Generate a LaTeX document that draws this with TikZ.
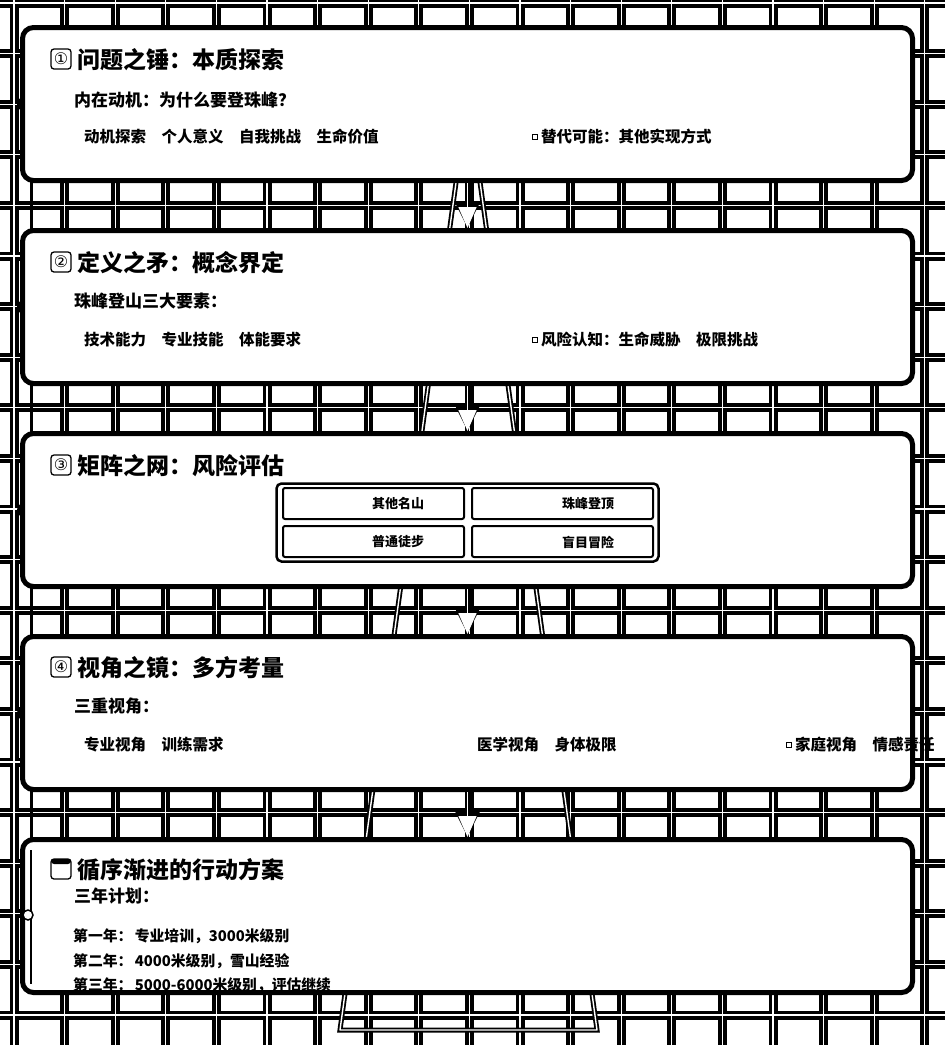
\documentclass[tikz,border=0pt]{standalone}
\usepackage{fontspec}
\newfontfamily\cjk{Noto Sans CJK SC}
\newfontfamily\sym{DejaVu Sans}
\usetikzlibrary{arrows.meta}

\tikzset{
  band/.style={draw=black, line width=9pt},
  hair/.style={draw=white, line width=1.3pt},
  ridge/.style={draw=white, line width=1.4pt, line join=round, preaction={draw=black, line width=5pt}},
  stage/.style={draw=black, line width=5pt, fill=white, rounded corners=11pt, minimum width=890pt, minimum height=153pt, inner sep=0pt},
  head/.style={anchor=west, inner sep=0pt, font=\cjk\bfseries\fontsize{23}{26}\selectfont},
  lead/.style={anchor=west, inner sep=0pt, font=\cjk\bfseries\fontsize{17}{20}\selectfont},
  item/.style={anchor=west, inner sep=0pt, font=\cjk\bfseries\fontsize{15.5}{18}\selectfont},
  plan/.style={anchor=west, inner sep=0pt, font=\cjk\bfseries\fontsize{14.8}{17}\selectfont},
  tag/.style={inner sep=0pt, font=\cjk\bfseries\fontsize{13}{15}\selectfont},
  badge/.style={draw=black, line width=1.3pt, fill=white, rounded corners=3pt, minimum size=20pt, inner sep=0pt, font=\sym\fontsize{16}{16}\selectfont},
  bullet/.style={draw=black, line width=1.2pt, fill=white, minimum size=5pt, inner sep=0pt},
  cell/.style={draw=black, line width=2pt, fill=white, rounded corners=2pt, minimum width=181pt, minimum height=31pt, inner sep=0pt},
  flow/.style={draw=white, line width=1.5pt, -{Triangle[length=21pt,width=18pt]},
    preaction={draw=black, line width=5pt, -{Triangle[length=27pt,width=25pt]}}},
}

\begin{document}
\begin{tikzpicture}[x=1pt, y=-1pt, node distance=203pt]
  \useasboundingbox (0,0) rectangle (945,1045);

  % Raster
  \fill[white] (0,0) rectangle (945,1045);
  \foreach \i in {0,...,18} \draw[band] ({14+50.6*\i},0) -- ({14+50.6*\i},1045);
  \foreach \j in {0,...,20} \draw[band] (0,{3+50.6*\j}) -- (945,{3+50.6*\j});
  \foreach \i in {0,...,18} \draw[hair] ({14+50.6*\i},0) -- ({14+50.6*\i},1045);
  \foreach \j in {0,...,20} \draw[hair] (0,{3+50.6*\j}) -- (945,{3+50.6*\j});

  % Berg
  \draw[ridge] (468,95) -- (597,1030) -- (340,1030) -- cycle;

  % Zeitleiste
  \coordinate (t0) at (31,45);
  \coordinate (t1) at (31,984);
  \draw[black, line width=3pt] (t0) -- (t1);
  \foreach \y in {104,307,510,713} \fill[black] (24,\y) circle (7pt);

  % Stufen
  \node[stage] (s1) at (467.5,104) {};
  \node[stage, below of=s1] (s2) {};
  \node[stage, below of=s2] (s3) {};
  \node[stage, below of=s3] (s4) {};
  \node[stage, below of=s4] (s5) {};

  % Pfeile
  \draw[flow] (s1) -- (s2);
  \draw[flow] (s2) -- (s3);
  \draw[flow] (s3) -- (s4);
  \draw[flow] (s4) -- (s5);

  % 1
  \node[badge] (n1) at (61,59) {①};
  \node[head] (h1) at (77,60) {问题之锤：本质探索};
  \node[lead] (l1) at (74,100) {内在动机：为什么要登珠峰？};
  \node[item] (a1) at (84,137) {动机探索　个人意义　自我挑战　生命价值};
  \node[bullet] (p1) at (535,137) {};
  \node[item] (b1) at (541,137) {替代可能：其他实现方式};

  % 2
  \node[badge] (n2) at (61,262) {②};
  \node[head] (h2) at (77,263) {定义之矛：概念界定};
  \node[lead] (l2) at (74,301) {珠峰登山三大要素：};
  \node[item] (a2) at (84,340) {技术能力　专业技能　体能要求};
  \node[bullet] (p2) at (535,340) {};
  \node[item] (b2) at (541,340) {风险认知：生命威胁　极限挑战};

  % 3
  \node[badge] (n3) at (61,465) {③};
  \node[head] (h3) at (77,466) {矩阵之网：风险评估};
  \node[draw=black, line width=2.5pt, rounded corners=5pt, minimum width=382pt, minimum height=78pt, inner sep=0pt] (rm) at (467.5,522.5) {};
  \node[cell] (c11) at (373.5,503.5) {};
  \node[cell] (c12) at (562.5,503.5) {};
  \node[cell] (c21) at (373.5,541.5) {};
  \node[cell] (c22) at (562.5,541.5) {};
  \node[tag] (m11) at (398,504) {其他名山};
  \node[tag] (m12) at (588,504) {珠峰登顶};
  \node[tag] (m21) at (398,542) {普通徒步};
  \node[tag] (m22) at (588,542) {盲目冒险};

  % 4
  \node[badge] (n4) at (61,667) {④};
  \node[head] (h4) at (77,668) {视角之镜：多方考量};
  \node[lead] (l4) at (74,706) {三重视角：};
  \node[item] (a4) at (84,745) {专业视角　训练需求};
  \node[item] (b4) at (477,745) {医学视角　身体极限};
  \node[bullet] (p4) at (789,745) {};
  \node[item] (d4) at (795,745) {家庭视角　情感责任};

  % 5
  \draw[black, line width=1.5pt] (31,850) -- (31,984);
  \node[circle, draw=black, line width=1.5pt, fill=white, minimum size=10pt, inner sep=0pt] (o5) at (28,915) {};
  \node[badge, path picture={\fill[black] (path picture bounding box.north west) rectangle ([yshift=-5pt]path picture bounding box.north east);}] (n5) at (61,869) {};
  \node[head] (h5) at (77,870) {循序渐进的行动方案};
  \node[lead] (l5) at (74,896) {三年计划：};
  \node[plan] (y1) at (73,936) {第一年：\,专业培训，3000米级别};
  \node[plan] (y2) at (73,961) {第二年：\,4000米级别，雪山经验};
  \node[plan] (y3) at (73,985) {第三年：\,5000-6000米级别，评估继续};
\end{tikzpicture}
\end{document}
